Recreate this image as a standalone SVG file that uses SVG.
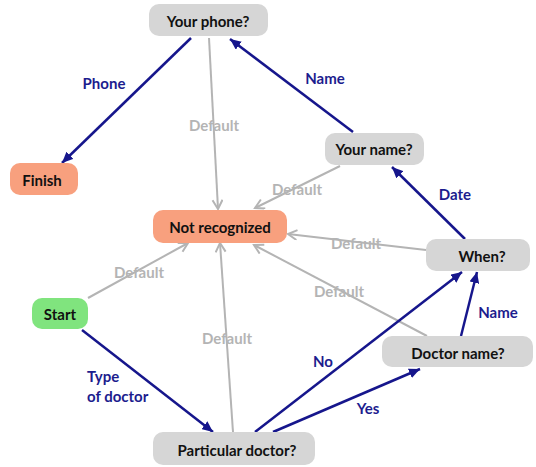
<svg xmlns="http://www.w3.org/2000/svg" width="536" height="467" viewBox="0 0 536 467">
<style>
text{font-family:Lato,"Open Sans","Liberation Sans",sans-serif;font-weight:bold;font-size:15px}
.q rect{fill:#d6d6d6}
.o rect{fill:#f8a07e}
.g rect{fill:#80e47e}
.n text{fill:#111111;text-anchor:middle;dominant-baseline:central}
.b{stroke:#16168c;stroke-width:2.5;fill:none;marker-end:url(#ab)}
.d{stroke:#b4b4b4;stroke-width:2;fill:none;marker-end:url(#ad)}
.lb{fill:#1c1c8e;text-anchor:middle;dominant-baseline:central}
.ld{fill:#b4b4b4;text-anchor:middle;dominant-baseline:central}
</style>
<defs>
<marker id="ab" markerUnits="userSpaceOnUse" markerWidth="12" markerHeight="10" refX="11" refY="5" orient="auto"><path d="M0,0 L11,5 L0,10 z" fill="#16168c"/></marker>
<marker id="ad" markerUnits="userSpaceOnUse" markerWidth="12" markerHeight="12" refX="10" refY="5.5" orient="auto"><path d="M1,0.5 L10,5.5 L1,10.5" fill="none" stroke="#b4b4b4" stroke-width="2"/></marker>
</defs>
<rect width="536" height="467" fill="#ffffff"/>
<g id="connectors">
<line class="b" x1="191" y1="38" x2="62" y2="163"/>
<line class="d" x1="209" y1="38" x2="218" y2="209"/>
<line class="b" x1="353" y1="132" x2="230" y2="39"/>
<line class="d" x1="340" y1="166" x2="255" y2="208"/>
<line class="b" x1="465" y1="239" x2="392" y2="167"/>
<line class="d" x1="426" y1="250" x2="288" y2="234"/>
<line class="d" x1="427" y1="336" x2="254" y2="245"/>
<line class="d" x1="88" y1="298" x2="188" y2="243"/>
<line class="b" x1="82" y1="330" x2="213" y2="432"/>
<line class="d" x1="233" y1="432" x2="220" y2="243"/>
<line class="b" x1="255" y1="432" x2="462" y2="272"/>
<line class="b" x1="273" y1="432" x2="420" y2="369"/>
<line class="b" x1="461" y1="336" x2="477" y2="272"/>
<text class="lb" x="104" y="83">Phone</text>
<text class="ld" x="214" y="125">Default</text>
<text class="lb" x="325" y="78">Name</text>
<text class="ld" x="297" y="189">Default</text>
<text class="lb" x="455" y="194">Date</text>
<text class="ld" x="356" y="243">Default</text>
<text class="ld" x="339" y="291">Default</text>
<text class="ld" x="139" y="272">Default</text>
<text class="lb" x="87" y="376" style="text-anchor:start">Type</text>
<text class="lb" x="87" y="396" style="text-anchor:start">of doctor</text>
<text class="ld" x="227" y="338">Default</text>
<text class="lb" x="323" y="361">No</text>
<text class="lb" x="368" y="408">Yes</text>
<text class="lb" x="498" y="312">Name</text>
</g>
<g id="your-phone" class="n q"><rect x="149" y="4" width="119" height="32" rx="10"/><text x="208" y="21">Your phone?</text></g>
<g id="finish" class="n o"><rect x="10" y="163" width="68" height="32" rx="10"/><text x="42" y="180">Finish</text></g>
<g id="not-recognized" class="n o"><rect x="153" y="210" width="134" height="33" rx="10"/><text x="220" y="227">Not recognized</text></g>
<g id="your-name" class="n q"><rect x="325" y="133" width="99" height="32" rx="10"/><text x="374" y="149">Your name?</text></g>
<g id="when" class="n q"><rect x="426" y="239" width="104" height="32" rx="10"/><text x="482" y="256">When?</text></g>
<g id="start" class="n g"><rect x="32" y="298" width="56" height="31" rx="10"/><text x="60" y="314">Start</text></g>
<g id="doctor-name" class="n q"><rect x="382" y="336" width="151" height="31" rx="10"/><text x="458" y="353">Doctor name?</text></g>
<g id="particular-doctor" class="n q"><rect x="153" y="432" width="162" height="33" rx="10"/><text x="237" y="450">Particular doctor?</text></g>
</svg>
